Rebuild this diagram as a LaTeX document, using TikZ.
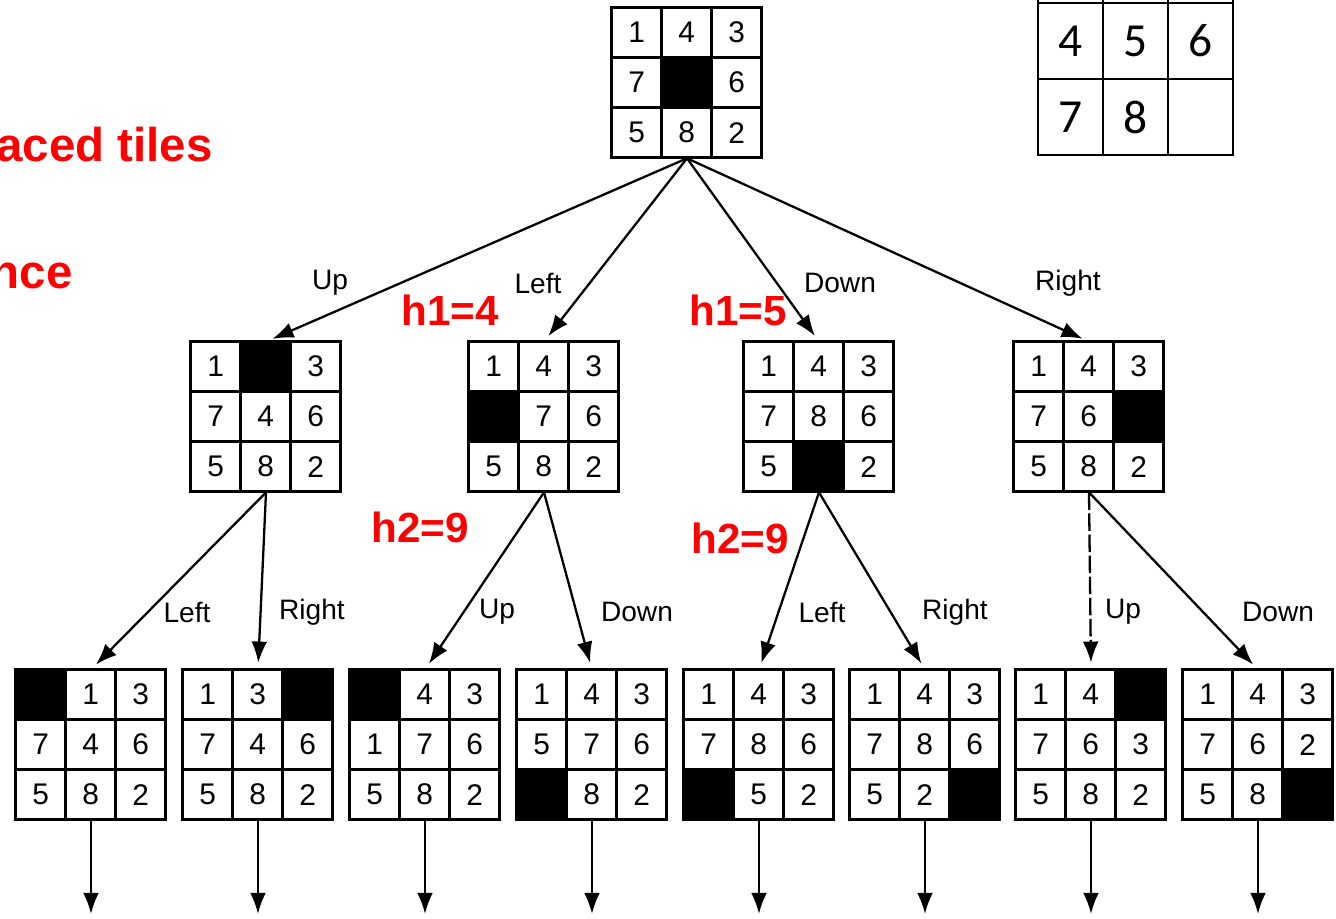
\documentclass[tikz,border=0pt]{standalone}
\usepackage{fontspec}
\setmainfont{Liberation Sans}
\newfontfamily\goalfont{Carlito}
\usetikzlibrary{positioning}
\usetikzlibrary{calc}
\usetikzlibrary{arrows.meta}

\tikzset{
  tile/.style={draw,line width=1.5pt,minimum size=1cm,inner sep=0pt,font=\fontsize{17}{17}\selectfont},
  boardframe/.style={minimum size=3cm,inner sep=0pt},
  move/.style={line width=1.3pt,-{Latex[length=12pt,width=9pt]},shorten >=4pt},
  movelabel/.style={font=\fontsize{16}{16}\selectfont},
  hval/.style={text=red,font=\fontsize{24}{24}\selectfont\bfseries},
  note/.style={text=red,font=\fontsize{27}{27}\selectfont\bfseries,inner sep=0pt},
  goaltile/.style={draw,line width=1.5pt,minimum width=1.3cm,minimum height=1.52cm,inner sep=0pt,font=\goalfont\fontsize{27}{27}\selectfont},
}

\def\holemark{x}
% \board{name}{centre}{nine tiles, x = blank}
\newcommand{\board}[3]{%
  \node[boardframe](#1) at (#2){};
  \foreach \t [count=\k from 0] in {#3}{%
    \pgfmathtruncatemacro{\row}{div(\k,3)}%
    \pgfmathtruncatemacro{\col}{mod(\k,3)}%
    \ifx\t\holemark
      \node[tile,fill=black](#1-\k) at ($(#1.north west)+(\col*50+25,\row*50+25)$){};
    \else
      \node[tile](#1-\k) at ($(#1.north west)+(\col*50+25,\row*50+25)$){\t};
    \fi
  }%
}

\begin{document}
\begin{tikzpicture}[x=0.02cm,y=-0.02cm]
\useasboundingbox (0,0) rectangle (1336,919);
\clip (0,0) rectangle (1336,919);

% goal state, top row runs off the page
\foreach \t [count=\k from 0] in {{},{},{},4,5,6,7,8,{}}{
  \pgfmathtruncatemacro{\row}{div(\k,3)}
  \pgfmathtruncatemacro{\col}{mod(\k,3)}
  \node[goaltile](goal-\k) at (1070.5+\col*65,-35+\row*76){\t};
}

\node[note,anchor=base east](misplaced) at (213,162){aced tiles};
\node[note,anchor=base east](distance) at (73,288){nce};

\board{root}{687,83}{1,4,3,7,x,6,5,8,2}

\board{up}{266,417}{1,x,3,7,4,6,5,8,2}
\board{left}{544,417}{1,4,3,x,7,6,5,8,2}
\board{down}{819,417}{1,4,3,7,8,6,5,x,2}
\board{right}{1089,417}{1,4,3,7,6,x,5,8,2}

\board{upL}{91,745}{x,1,3,7,4,6,5,8,2}
\board{upR}{258,745}{1,3,x,7,4,6,5,8,2}
\board{leftU}{425,745}{x,4,3,1,7,6,5,8,2}
\board{leftD}{592,745}{1,4,3,5,7,6,x,8,2}
\board{downL}{759,745}{1,4,3,7,8,6,x,5,2}
\board{downR}{925,745}{1,4,3,7,8,6,5,2,x}
\board{rightU}{1091,745}{1,4,x,7,6,3,5,8,2}
\board{rightD}{1258,745}{1,4,3,7,6,2,5,8,x}

\node[movelabel](lUp) at (330,283){Up};
\node[movelabel](lLeft) at (538,283){Left};
\node[movelabel](lDown) at (840,283){Down};
\node[movelabel](lRight) at (1068,283){Right};

\node[movelabel](lUpL) at (187,612){Left};
\node[movelabel](lUpR) at (312,612){Right};
\node[movelabel](lLeftU) at (497,612){Up};
\node[movelabel](lLeftD) at (637,612){Down};
\node[movelabel](lDownL) at (822,612){Left};
\node[movelabel](lDownR) at (955,612){Right};
\node[movelabel](lRightU) at (1123,612){Up};
\node[movelabel](lRightD) at (1278,612){Down};

\node[hval](h1left) at (450,310){h1=4};
\node[hval](h1down) at (738,310){h1=5};
\node[hval](h2left) at (420,527){h2=9};
\node[hval](h2down) at (740,538){h2=9};

\path
(root.south) edge[move] (up.north)
(root.south) edge[move] (left.north)
(root.south) edge[move] (down.north)
(root.south) edge[move] (right.north)
(up.south) edge[move] (upL.north)
(up.south) edge[move] (upR.north)
(left.south) edge[move] (leftU.north)
(left.south) edge[move] (leftD.north)
(down.south) edge[move] (downL.north)
(down.south) edge[move] (downR.north)
(right.south) edge[move,dash pattern=on 10pt off 2pt] (rightU.north)
(right.south) edge[move] (rightD.north);

\foreach \b/\x in {upL/91,upR/258,leftU/425,leftD/592,downL/759,downR/925,rightU/1091,rightD/1258}{
  \coordinate(\b-out) at (\x,921);
  \draw[move] (\b.south) -- (\b-out);
}
\end{tikzpicture}
\end{document}
